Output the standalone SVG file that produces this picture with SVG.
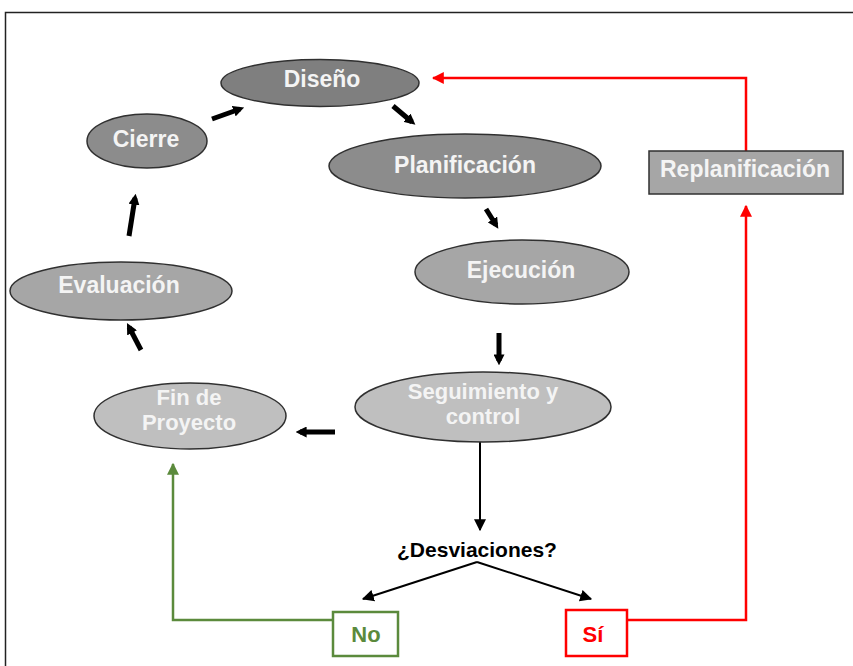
<svg xmlns="http://www.w3.org/2000/svg" width="853" height="666" viewBox="0 0 853 666">
  <style>
    .node { stroke: #303030; stroke-width: 1.5; }
    .lbl { font-family: "Liberation Sans", Arial, sans-serif; font-weight: bold; font-size: 23px; fill: #f4f4f4; text-anchor: middle; }
    .two { font-size: 22px; }
    .step { fill: none; stroke: #000; stroke-width: 5; marker-end: url(#thick); }
    .flow { fill: none; stroke: #000; stroke-width: 2; marker-end: url(#thin); }
    .red { fill: none; stroke: #ff0000; stroke-width: 2.5; }
    .green { fill: none; stroke: #5b8a3c; stroke-width: 2.5; }
  </style>
  <defs>
    <marker id="thick" viewBox="0 0 10 10" refX="6" refY="5" markerWidth="11" markerHeight="11" markerUnits="userSpaceOnUse" orient="auto">
      <path d="M0,0 L10,5 L0,10 Z" fill="#000"/>
    </marker>
    <marker id="thin" viewBox="0 0 10 10" refX="9" refY="5" markerWidth="12" markerHeight="12" markerUnits="userSpaceOnUse" orient="auto">
      <path d="M0,0 L10,5 L0,10 Z" fill="#000"/>
    </marker>
    <marker id="redHead" viewBox="0 0 10 10" refX="9" refY="5" markerWidth="12" markerHeight="12" markerUnits="userSpaceOnUse" orient="auto">
      <path d="M0,0 L10,5 L0,10 Z" fill="#ff0000"/>
    </marker>
    <marker id="greenHead" viewBox="0 0 10 10" refX="9" refY="5" markerWidth="12" markerHeight="12" markerUnits="userSpaceOnUse" orient="auto">
      <path d="M0,0 L10,5 L0,10 Z" fill="#5b8a3c"/>
    </marker>
  </defs>

  <rect width="853" height="666" fill="#fff"/>
  <!-- outer frame -->
  <path d="M5.5,666 V12.5 H853" fill="none" stroke="#222" stroke-width="1.5"/>

  <g id="connectors">
    <!-- cycle steps -->
    <line class="step" x1="212" y1="119" x2="240" y2="109"/>
    <line class="step" x1="393" y1="106" x2="412" y2="122"/>
    <line class="step" x1="486" y1="209" x2="496" y2="225"/>
    <line class="step" x1="499" y1="333" x2="499" y2="361"/>
    <line class="step" x1="335" y1="432" x2="300" y2="432"/>
    <line class="step" x1="141" y1="350" x2="129" y2="327"/>
    <line class="step" x1="129" y1="236" x2="135" y2="198"/>
    <!-- decision flow -->
    <line class="flow" x1="480" y1="442" x2="480" y2="530"/>
    <polyline class="flow" points="477,562 363,599"/>
    <polyline class="flow" points="477,562 591,599"/>
    <!-- yes branch back to design -->
    <polyline class="red" points="627,620 746,620 746,206" marker-end="url(#redHead)"/>
    <polyline class="red" points="746,151 746,78 433,78" marker-end="url(#redHead)"/>
    <!-- no branch to project end -->
    <polyline class="green" points="333,620 173,620 173,464" marker-end="url(#greenHead)"/>
  </g>

  <g id="diseno">
    <ellipse class="node" cx="320" cy="83" rx="99" ry="23.5" fill="#7f7f7f"/>
    <text class="lbl" x="322" y="87" font-size="24">Diseño</text>
  </g>
  <g id="planificacion">
    <ellipse class="node" cx="465" cy="166" rx="136" ry="32" fill="#8c8c8c"/>
    <text class="lbl" x="465" y="173">Planificación</text>
  </g>
  <g id="ejecucion">
    <ellipse class="node" cx="522" cy="272" rx="107" ry="32" fill="#a6a6a6"/>
    <text class="lbl" x="521" y="278">Ejecución</text>
  </g>
  <g id="seguimiento">
    <ellipse class="node" cx="483" cy="407" rx="128" ry="35" fill="#bfbfbf"/>
    <text class="lbl two" x="483" y="399">Seguimiento y</text>
    <text class="lbl two" x="483" y="424">control</text>
  </g>
  <g id="fin-proyecto">
    <ellipse class="node" cx="190" cy="416" rx="96" ry="33" fill="#bfbfbf"/>
    <text class="lbl two" x="189" y="405">Fin de</text>
    <text class="lbl two" x="189" y="430">Proyecto</text>
  </g>
  <g id="evaluacion">
    <ellipse class="node" cx="121" cy="291" rx="111" ry="29" fill="#a6a6a6"/>
    <text class="lbl" x="119" y="293">Evaluación</text>
  </g>
  <g id="cierre">
    <ellipse class="node" cx="147" cy="141" rx="60" ry="27" fill="#8c8c8c"/>
    <text class="lbl" x="146" y="147">Cierre</text>
  </g>
  <g id="replanificacion">
    <rect class="node" x="649" y="151" width="194" height="43" fill="#a6a6a6"/>
    <text class="lbl" x="745" y="177" font-size="20">Replanificación</text>
  </g>
  <g id="desviaciones">
    <text x="477" y="557" font-family="Liberation Sans, Arial, sans-serif" font-weight="bold" font-size="21" fill="#000" text-anchor="middle">¿Desviaciones?</text>
  </g>
  <g id="no">
    <rect x="333" y="612" width="65" height="44" fill="#fff" stroke="#5b8a3c" stroke-width="2.5"/>
    <text x="366" y="642" font-family="Liberation Sans, Arial, sans-serif" font-weight="bold" font-size="22" fill="#5b8a3c" text-anchor="middle">No</text>
  </g>
  <g id="si">
    <rect x="566" y="610" width="61" height="46" fill="#fff" stroke="#ff0000" stroke-width="2.5"/>
    <text x="593" y="642" font-family="Liberation Sans, Arial, sans-serif" font-weight="bold" font-size="22" fill="#ff0000" text-anchor="middle">Sí</text>
  </g>
</svg>
